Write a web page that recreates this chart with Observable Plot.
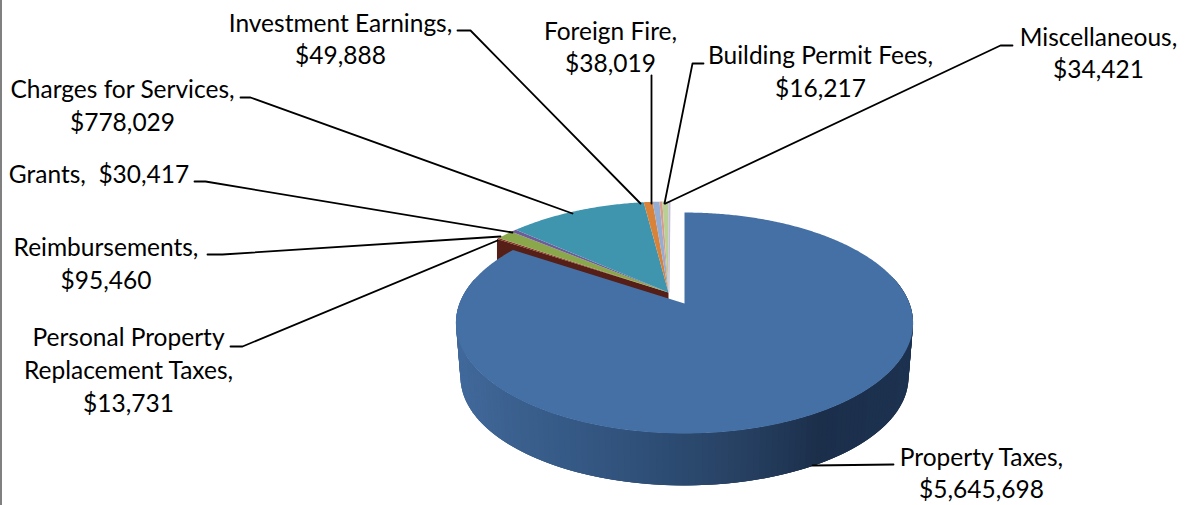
<!DOCTYPE html>
<html><head><meta charset="utf-8">
<style>html,body{margin:0;padding:0;background:#fff}svg{display:block}</style>
<script src="https://cdn.jsdelivr.net/npm/d3@7"></script>
<script src="https://cdn.jsdelivr.net/npm/@observablehq/plot@0.6"></script>
</head><body><script>
// --- data ---
const names = ["Property Taxes","Personal Property\nReplacement Taxes","Reimbursements","Grants","Charges for Services","Investment Earnings","Foreign Fire","Building Permit Fees","Miscellaneous"];
const values = [5645698,13731,95460,30417,778029,49888,38019,16217,34421];
const colors = ["#4570a6","#8c2f28","#8aa84b","#6f5a9a","#3f95ae","#d98239","#95add3","#d89c8c","#b9d094"];
// --- label layout ---
const labelX = [981,128,105.5,98.5,122,340,610,820,1098];
const labelY = [471,368,261.5,171.5,103.5,37,45,69.5,51];
// --- leader lines layout ---
const leaderPaths = [
 [[812,465],[893,464]],
 [[497,240],[242,346],[230,346]],
 [[500,236],[222,254],[207,254]],
 [[512,232],[205,181],[194,181]],
 [[572,213],[250,97],[240,97]],
 [[640,203],[470,30],[457,30]],
 [[651,203],[651,75]],
 [[664,203],[692,63],[703,63]],
 [[665,203],[1000,45],[1012,45]]
];
// --- pie geometry (3D projection) ---
const R=225, B=107, P=0.1765, DEPTH=54.6, BOTTOM_SCALE=0.98;
const bigApex=[684,303], restApex=[668,292];
const rim=(apex,t,s=1)=>{const u=Math.sin(t),v=Math.cos(t),w=1/(1+P*v);return [apex[0]+s*R*u*w,apex[1]-s*B*v*w];};
const arcs=d3.pie().sort(null).startAngle(0).endAngle(2*Math.PI)(values);
const wedge=(a,apex)=>{const n=Math.max(2,Math.ceil((a.endAngle-a.startAngle)/0.01));
  return [apex,...d3.range(n+1).map(i=>rim(apex,a.startAngle+(a.endAngle-a.startAngle)*i/n))].map(([x,y])=>({x,y}));};
const bigArc=arcs[0];
const bottomApex=[bigApex[0],bigApex[1]+DEPTH];
// outer wall strips of the large slice (each overlaps the next, no seams)
const strips=[];
const t0=1.3,t1=4.95,ns=150,dt=(t1-t0)/ns;
for(let i=0;i<ns;i++){const a=t0+dt*i,b=t0+dt*(i+1),c=Math.min(t1,t0+dt*(i+3));
  const p=[rim(bigApex,a),rim(bigApex,c),rim(bottomApex,c,BOTTOM_SCALE),rim(bottomApex,a,BOTTOM_SCALE)];
  const tx=(rim(bigApex,a)[0]+rim(bigApex,b)[0])/2;
  for(const [x,y] of p) strips.push({x,y,k:i,tx});
}
// radial wall of the rest group, facing the large slice
const ws=rim(restApex,bigArc.endAngle);
const maroonWall=[restApex,ws,[ws[0],ws[1]+52],[restApex[0],restApex[1]+52]].map(([x,y])=>({x,y}));
// closing wall of the rest group
const we=rim(restApex,2*Math.PI);
const endWall=[restApex,we,[we[0]+2,we[1]],[restApex[0]+1,restApex[1]]].map(([x,y])=>({x,y}));

const poly=(d,fill)=>Plot.line(d,{x:"x",y:"y",fill,stroke:"none",curve:"linear-closed"});
const labels=names.map((n,i)=>({text:n==="Grants"?`Grants,  $${d3.format(",")(values[i])}`:`${n},\n$${d3.format(",")(values[i])}`,x:labelX[i],y:labelY[i]}));
const leaders=leaderPaths.flatMap((p,i)=>p.map(([x,y])=>({x,y,i})));

const chart=Plot.plot({
  width:1185,height:505,margin:0,
  style:{background:"#fff",fontFamily:"Lato"},
  x:{domain:[0,1185],range:[0,1185],axis:null},
  y:{domain:[0,505],range:[0,505],axis:null},
  color:{type:"linear",domain:[456,500,640,750,820,914],range:["#41699b","#3c6291","#2f5079","#263f60","#1b2f4b","#1d3250"],interpolate:"rgb"},
  marks:[
    poly(maroonWall,"#551e16"),
    Plot.line(strips,{x:"x",y:"y",z:"k",fill:"tx",stroke:"none",curve:"linear-closed"}),
    ...arcs.map((a,i)=>poly(wedge(a,i===0?bigApex:restApex),colors[i])),
    poly(endWall,"#c3bcd9"),
    Plot.line(leaders,{x:"x",y:"y",z:"i",stroke:"#000",strokeWidth:1.8,strokeLinejoin:"round"}),
    Plot.text(labels,{x:"x",y:"y",text:"text",fontSize:24.5,lineHeight:1.34,fill:"#000",textAnchor:"middle",lineAnchor:"middle"}),
    Plot.ruleX([0.5],{stroke:"#808080",strokeWidth:2})
  ]
});
document.body.appendChild(chart);
</script></body></html>
